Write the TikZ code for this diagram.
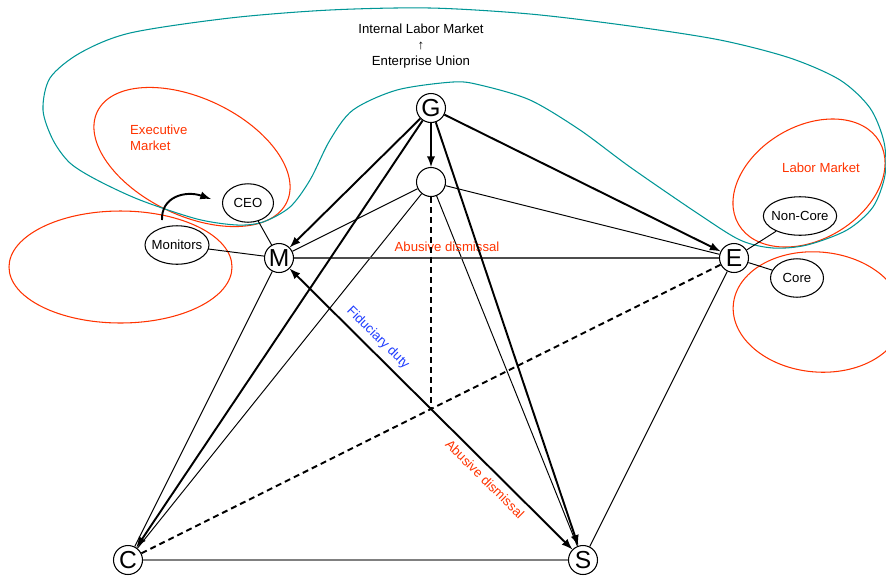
\documentclass[tikz,border=0pt]{standalone}
\usepackage{fontspec}
\setmainfont{Liberation Sans}
\usepackage{xcolor}
\usetikzlibrary{shapes,arrows,positioning,calc}
\definecolor{mktred}{RGB}{255,51,0}
\definecolor{ilmteal}{RGB}{0,150,150}
\definecolor{dutyblue}{RGB}{30,60,255}

\begin{document}
\begin{tikzpicture}[x=0.02cm, y=-0.02cm,
    party/.style={circle, draw, line width=0.6pt, minimum size=0.58cm, inner sep=0pt, font=\fontsize{14}{14}\selectfont},
    role/.style={ellipse, draw, line width=0.6pt, inner xsep=-1.5pt, inner ysep=0pt, minimum height=0.77cm, font=\fontsize{7.5}{9}\selectfont},
    txt/.style={font=\fontsize{7.5}{9}\selectfont},
    link/.style={line width=0.55pt},
    power/.style={-latex, line width=1.1pt},
    dashlink/.style={line width=1.1pt, dash pattern=on 3.4pt off 2.3pt},
    mkt/.style={draw=mktred, line width=0.6pt}]
    \useasboundingbox (0,0) rectangle (886,576);

    % markets
    \draw[mkt, rotate around={-25.5:(192,157)}] (192,157) ellipse [x radius=105, y radius=58.6];
    \draw[mkt] (120.5,267) ellipse [x radius=111.5, y radius=56];
    \draw[mkt, rotate around={30.5:(809,183)}] (809,183) ellipse [x radius=81.7, y radius=56.6];
    \draw[mkt, rotate around={-5:(818,312)}] (818,312) ellipse [x radius=85, y radius=60];
    \draw[draw=ilmteal, line width=0.6pt] plot[smooth cycle] coordinates {
        (43,110) (53,140) (70,163) (97,180) (140,200) (197,219) (237,225) (263,222)
        (290,207) (310,180) (330,140) (353,110) (397,90) (453,82) (480,85) (530,100)
        (580,130) (630,167) (697,213) (740,240) (773,248) (807,245) (847,230) (873,207)
        (885,175) (884,142) (870,108) (840,80) (790,58) (720,40) (630,26) (530,14)
        (430,8) (330,10) (230,18) (130,33) (80,53) (50,78)};

    \node[txt, align=center] (ilm) at (421,46) {Internal Labor Market\\ ↑\\ Enterprise Union};
    \node[txt, text=mktred, align=left, anchor=west] (exec) at (124,138) {Executive\\Market};
    \node[txt, text=mktred] (labor) at (821,168) {Labor Market};

    \node[party] (G) at (431,108) {G};
    \node[party] (B) at (431,182) {};
    \node[party] (M) at (279,258) {M};
    \node[party] (E) at (734,258) {E};
    \node[party] (C) at (128,560) {C};
    \node[party] (S) at (583,560) {S};
    \node[role, minimum width=1.02cm] (ceo) at (248,203) {CEO};
    \node[role] (mon) at (177,245) {Monitors};
    \node[role] (noncore) at (800,216) {Non-Core};
    \node[role, minimum width=1.06cm] (core) at (797,278) {Core};

    \draw[link] (M) -- (ceo);
    \draw[link] (M) -- (mon);
    \draw[link] (E) -- (noncore);
    \draw[link] (E) -- (core);
    \foreach \t in {M,C,E,S}
        \draw[link] (B) -- (\t);
    \draw[link] (M) -- (C);
    \draw[link] (E) -- (S);
    \draw[line width=0.8pt, black!70] (M) -- node[txt, text=mktred, above, pos=.36] {Abusive dismissal} (E);
    \draw[line width=1.1pt, black!50] (C) -- (S);

    \foreach \t in {B,M,C,E,S}
        \draw[power] (G) -- (\t);
    \draw[power, latex-latex] (M) -- node[txt, text=dutyblue, sloped, above, pos=.28] {Fiduciary duty}
        node[txt, text=mktred, sloped, below, pos=.72] {Abusive dismissal} (S);

    \coordinate (X) at ($(C)!.5!(E)$);
    \draw[dashlink] (C) -- (E);
    \draw[dashlink] (B) -- (X);

    \coordinate (swing) at (162,220);
    \coordinate (swingend) at (211,199);
    \draw[power] (swing) .. controls (161,197) and (185,190) .. (swingend);
\end{tikzpicture}
\end{document}
